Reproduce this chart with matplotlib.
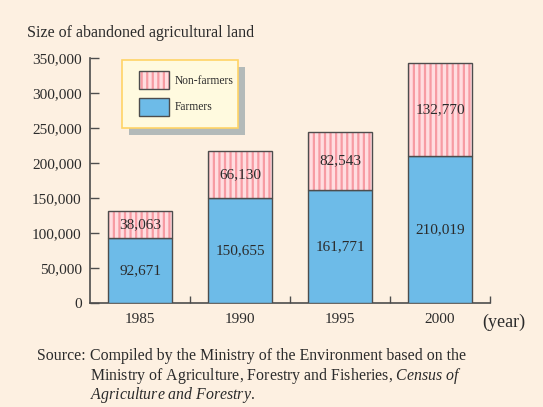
import matplotlib
matplotlib.use("Agg")
import matplotlib.pyplot as plt
from matplotlib.patches import Rectangle
from matplotlib.legend_handler import HandlerBase
from matplotlib.ticker import FuncFormatter, FixedLocator

years = ["1985", "1990", "1995", "2000"]
farmers = [92671, 150655, 161771, 210019]
non_farmers = [38063, 66130, 82543, 132770]
y_ticks = [0, 50000, 100000, 150000, 200000, 250000, 300000, 350000]

BG = "#FDF0E1"
TXT = "#2b2b2b"
AX = "#4d4d4d"
BLUE = "#6DBBE8"
PINK_FACE = "#FFDDE0"
PINK_HATCH = "#F79BA3"

plt.rcParams["font.family"] = ["Liberation Serif", "DejaVu Serif"]
plt.rcParams["mathtext.fontset"] = "custom"
plt.rcParams["mathtext.rm"] = "Liberation Serif"
plt.rcParams["mathtext.it"] = "Liberation Serif:italic"
plt.rcParams["hatch.linewidth"] = 1.6

fig = plt.figure(figsize=(5.43, 4.07), dpi=100, facecolor=BG)
ax = fig.add_axes([90 / 543, 1 - 303 / 407, 400 / 543, 245 / 407])
ax.set_facecolor("none")

x = list(range(len(years)))
W = 0.645
ax.bar(x, farmers, width=W, color=BLUE, edgecolor=AX, linewidth=1.0, zorder=3)
# hatched fill (hatch drawn in edge colour), then a dark outline on top
ax.bar(x, non_farmers, width=W, bottom=farmers, color=PINK_FACE,
       edgecolor=PINK_HATCH, linewidth=0, hatch="|||", zorder=3)
ax.bar(x, non_farmers, width=W, bottom=farmers, fill=False,
       edgecolor=AX, linewidth=1.0, zorder=3.5)

for xi, f, n in zip(x, farmers, non_farmers):
    ax.text(xi, f / 2, f"{f:,}", ha="center", va="center", fontsize=11, color=TXT, zorder=4)
    ax.text(xi, f + n / 2, f"{n:,}", ha="center", va="center", fontsize=11, color=TXT, zorder=4)

ax.set_xlim(-0.5, 3.5)
ax.set_ylim(0, 350000)
ax.set_xticks(x)
ax.set_xticklabels(years)
ax.xaxis.set_minor_locator(FixedLocator([0.5, 1.5, 2.5, 3.5]))
ax.set_yticks(y_ticks)
ax.yaxis.set_major_formatter(FuncFormatter(lambda v, p: f"{int(v):,}"))
ax.tick_params(axis="x", which="major", length=0, pad=7, labelsize=11, labelcolor=TXT)
ax.tick_params(axis="x", which="minor", direction="in", length=5, width=1.0, color=AX)
ax.tick_params(axis="y", direction="in", length=6.5, width=1.0, color=AX, pad=6,
               labelsize=11, labelcolor=TXT)
for s in ["top", "right"]:
    ax.spines[s].set_visible(False)
for s in ["left", "bottom"]:
    ax.spines[s].set_color(AX)
    ax.spines[s].set_linewidth(1.2)

# legend box with shadow
ax.add_patch(Rectangle((0.0975, 0.686), 0.29, 0.278, transform=ax.transAxes,
                       facecolor="#B3BAB9", edgecolor="none", zorder=5, clip_on=False))
ax.add_patch(Rectangle((0.08, 0.714), 0.29, 0.278, transform=ax.transAxes,
                       facecolor="#FFFADF", edgecolor="#FFD466", linewidth=1.2,
                       zorder=6, clip_on=False))


class BoxHandler(HandlerBase):
    def __init__(self, hatch=None, face="w"):
        super().__init__()
        self.hatch = hatch
        self.face = face

    def create_artists(self, legend, orig_handle, xdescent, ydescent, width, height,
                       fontsize, trans):
        arts = []
        if self.hatch:
            arts.append(Rectangle((-xdescent, -ydescent), width, height, facecolor=self.face,
                                  edgecolor=PINK_HATCH, linewidth=0, hatch=self.hatch,
                                  transform=trans))
            arts.append(Rectangle((-xdescent, -ydescent), width, height, fill=False,
                                  edgecolor=AX, linewidth=1.0, transform=trans))
        else:
            arts.append(Rectangle((-xdescent, -ydescent), width, height, facecolor=self.face,
                                  edgecolor=AX, linewidth=1.0, transform=trans))
        return arts


h_nf = Rectangle((0, 0), 1, 1)
h_f = Rectangle((0, 0), 1, 1)
leg = ax.legend([h_nf, h_f], ["Non-farmers", "Farmers"], loc="upper left",
                bbox_to_anchor=((139 - 90) / 400, (303 - 71) / 245), frameon=False,
                borderpad=0, borderaxespad=0, fontsize=8.3, handlelength=2.6,
                handleheight=2.03, handletextpad=0.5, labelspacing=0.75,
                handler_map={h_nf: BoxHandler("|||", PINK_FACE), h_f: BoxHandler(None, BLUE)})
leg.set_zorder(7)
for t in leg.get_texts():
    t.set_color(TXT)

ax.text(0.98, -0.078, "(year)", transform=ax.transAxes, ha="left", va="center",
        fontsize=13, color=TXT)

fig.text(27 / 543, 1 - 33 / 407, "Size of abandoned agricultural land", ha="left",
         va="center", fontsize=11.5, color=TXT)

FS = 11.4
fig.text(37 / 543, 1 - 356 / 407, "Source:", ha="left", va="center", fontsize=FS, color=TXT)
fig.text(90 / 543, 1 - 356 / 407, "Compiled by the Ministry of the Environment based on the",
         ha="left", va="center", fontsize=FS, color=TXT)
fig.text(90 / 543, 1 - 376 / 407,
         r"Ministry of Agriculture, Forestry and Fisheries, $\mathit{Census\ of}$",
         ha="left", va="center", fontsize=FS, color=TXT)
fig.text(90 / 543, 1 - 395 / 407, r"$\mathit{Agriculture\ and\ Forestry}$.",
         ha="left", va="center", fontsize=FS, color=TXT)

fig.savefig("out.png", dpi=100, facecolor=BG)
